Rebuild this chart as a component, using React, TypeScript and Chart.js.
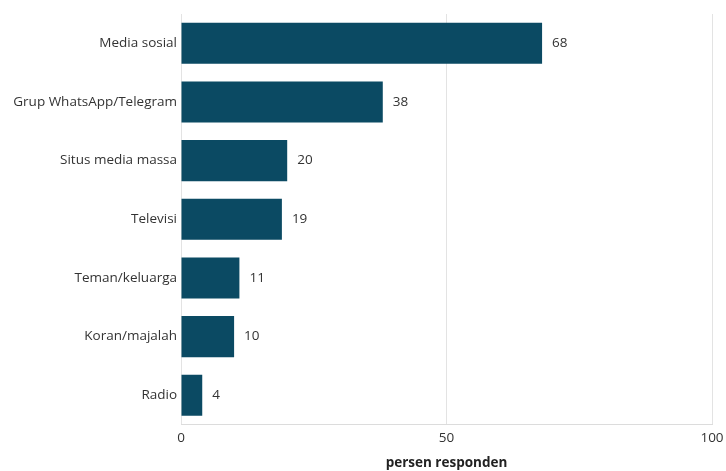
import React, { useEffect, useRef } from "react";
import { Chart, registerables } from "chart.js";

Chart.register(...registerables);

const categories = [
  "Media sosial",
  "Grup WhatsApp/Telegram",
  "Situs media massa",
  "Televisi",
  "Teman/keluarga",
  "Koran/majalah",
  "Radio",
];
const values = [68, 38, 20, 19, 11, 10, 4];
const xTicks = [0, 50, 100];
const axisTitle = "persen responden";

const FONT = "'Open Sans', 'Noto Sans', sans-serif";

const valueLabels = {
  id: "valueLabels",
  afterDatasetsDraw(chart: any) {
    const ctx = chart.ctx;
    const meta = chart.getDatasetMeta(0);
    ctx.save();
    ctx.font = `13.5px ${FONT}`;
    ctx.fillStyle = "#333333";
    ctx.textAlign = "left";
    ctx.textBaseline = "middle";
    meta.data.forEach((el: any, i: number) => {
      ctx.fillText(String(values[i]), el.x + 10, el.y);
    });
    ctx.restore();
  },
};

export default function App() {
  const ref = useRef<HTMLCanvasElement>(null);
  useEffect(() => {
    document.body.style.margin = "0";
    const chart = new Chart(ref.current!, {
      type: "bar",
      data: {
        labels: categories,
        datasets: [
          {
            data: values,
            backgroundColor: "#0b4a63",
            barPercentage: 0.7,
            categoryPercentage: 1,
          },
        ],
      },
      options: {
        indexAxis: "y",
        animation: false,
        responsive: false,
        layout: { padding: { top: 14, right: 14, left: 0, bottom: 0 } },
        plugins: { legend: { display: false }, tooltip: { enabled: false } },
        scales: {
          x: {
            min: 0,
            max: 100,
            afterBuildTicks(scale: any) {
              scale.ticks = xTicks.map((v) => ({ value: v }));
            },
            afterFit(scale: any) {
              scale.paddingRight = 0;
              scale.paddingLeft = 0;
            },
            grid: { color: "#e3e3e3", drawTicks: false },
            border: { display: true, color: "#dcdcdc" },
            ticks: { color: "#333333", font: { family: FONT, size: 13.5 }, padding: 5 },
            title: {
              display: true,
              text: axisTitle,
              color: "#222222",
              font: { family: FONT, size: 13.5, weight: "bold" },
              padding: { top: 4, bottom: 0 },
            },
          },
          y: {
            afterFit(scale: any) {
              scale.width = 181;
            },
            grid: { display: false, drawTicks: false },
            border: { display: false },
            ticks: { color: "#333333", font: { family: FONT, size: 13.5 }, padding: 4 },
          },
        },
      },
      plugins: [valueLabels],
    });
    return () => chart.destroy();
  }, []);
  return (
    <div style={{ width: 726, height: 471 }}>
      <canvas ref={ref} width={726} height={471} />
    </div>
  );
}
